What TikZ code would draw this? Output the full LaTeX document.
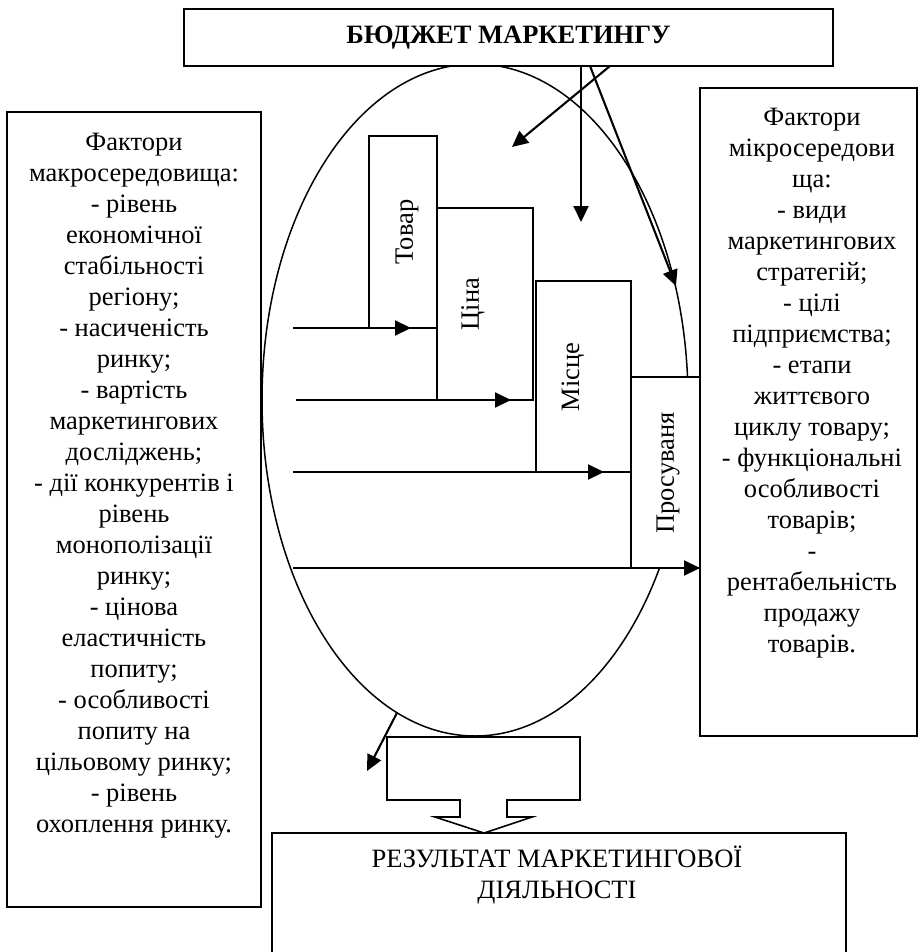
\documentclass[tikz,border=0pt]{standalone}
\usepackage{fontspec}
\setmainfont{Liberation Serif}
\usetikzlibrary{arrows.meta,shapes.geometric}
\begin{document}
\begin{tikzpicture}[x=1pt,y=-1pt,
  every node/.style={font=\fontsize{26.5}{31}\selectfont, inner sep=0pt, outer sep=0pt},
  box/.style={draw, line width=1.6pt, fill=white, anchor=north west},
  ibox/.style={draw, line width=1.5pt, fill=white, anchor=north west},
  txt/.style={align=center, anchor=north},
  rot/.style={rotate=90},
  arr/.style={line width=2.1pt, -{Triangle[length=16pt,width=15pt]}},
  blockarrow/.style={draw, line width=1.6pt, fill=white, line join=miter}
]
\useasboundingbox (0,0) rectangle (918,952);

% central oval
\node[draw, ellipse, line width=1.5pt, minimum width=426pt, minimum height=672pt] (oval) at (475,400) {};

% top box
\node[box, minimum width=649pt, minimum height=57pt,
      font=\fontsize{26.5}{31}\selectfont\bfseries] (budget) at (184,9) {БЮДЖЕТ МАРКЕТИНГУ};

% left box
\node[box, minimum width=254pt, minimum height=795pt] (macro) at (7,112) {};
\node[txt] (macrotext) at (134,133) {Фактори\\макросередовища:\\- рівень\\економічної\\стабільності\\регіону;\\- насиченість\\ринку;\\- вартість\\маркетингових\\досліджень;\\- дії конкурентів і\\рівень\\монополізації\\ринку;\\- цінова\\еластичність\\попиту;\\- особливості\\попиту на\\цільовому ринку;\\- рівень\\охоплення ринку.};

% right box
\node[box, minimum width=217pt, minimum height=648pt] (micro) at (700,88) {};
\node[txt] (microtext) at (812,108) {Фактори\\мікросередови\\ща:\\- види\\маркетингових\\стратегій;\\- цілі\\підприємства;\\- етапи\\життєвого\\циклу товару;\\- функціональні\\особливості\\товарів;\\-\\рентабельність\\продажу\\товарів.};

% inner boxes
\node[ibox, minimum width=68pt, minimum height=192pt] (tovar) at (369,136) {};
\node[ibox, minimum width=96pt, minimum height=192pt] (tsina) at (437,208) {};
\node[ibox, minimum width=95pt, minimum height=191pt] (mistse) at (536,281) {};
\node[ibox, minimum width=69pt, minimum height=191pt] (prosuv) at (631,377) {};
\node[rot] (tovart) at (407,232) {Товар};
\node[rot] (tsinat) at (473,304) {Ціна};
\node[rot] (mistset) at (573,377) {Місце};
\node[rot] (prosuvt) at (668,473) {Просуваня};

% arrows into the 4P boxes
\coordinate (a1s) at (293,328); \coordinate (a1e) at (411,328);
\coordinate (a2s) at (296,400); \coordinate (a2e) at (511,400);
\coordinate (a3s) at (293,472); \coordinate (a3e) at (604,472);
\coordinate (a4s) at (293,568);
\draw[arr] (a1s) -- (a1e);
\draw[arr] (a2s) -- (a2e);
\draw[arr] (a3s) -- (a3e);
\draw[arr] (a4s) -- (prosuv.south east);

% arrows from the budget box
\coordinate (d1s) at (581,66);  \coordinate (d1e) at (581,222);
\coordinate (d2s) at (610,66);  \coordinate (d2e) at (512,147);
\coordinate (d3s) at (590,66);  \coordinate (d3e) at (676,286);
\draw[arr] (d1s) -- (d1e);
\draw[arr] (d2s) -- (d2e);
\draw[arr] (d3s) -- (d3e);

% small arrow leaving the oval
\coordinate (s2) at (367,771);
\draw[arr] (oval.256) -- (s2);

% block arrow to the result
\draw[blockarrow] (387,737) -- (580,737) -- (580,800) -- (507,800) -- (507,817)
  -- (532,817) -- (484,833) -- (435,817) -- (460,817) -- (460,800) -- (387,800) -- cycle;

% result box
\node[box, minimum width=574pt, minimum height=125pt] (result) at (272,833) {};
\node[txt] (resulttext) at (557,846) {РЕЗУЛЬТАТ МАРКЕТИНГОВОЇ\\ДІЯЛЬНОСТІ};
\end{tikzpicture}
\end{document}
